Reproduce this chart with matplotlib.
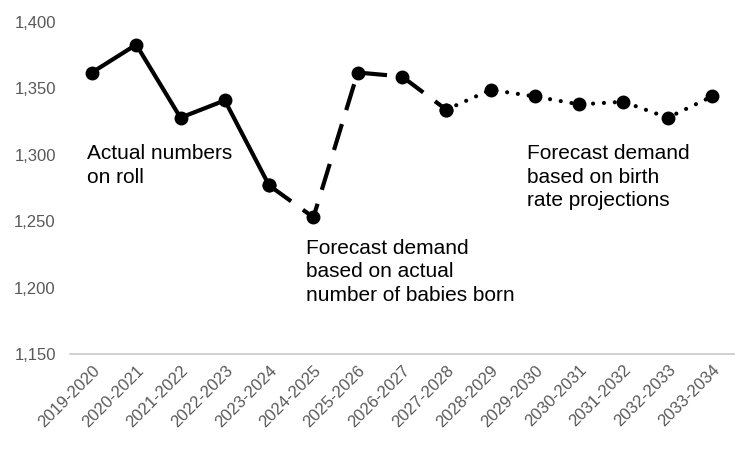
import matplotlib.pyplot as plt

plt.rcParams['font.family'] = ['Liberation Sans', 'DejaVu Sans']

years = ['2019-2020', '2020-2021', '2021-2022', '2022-2023', '2023-2024',
         '2024-2025', '2025-2026', '2026-2027', '2027-2028', '2028-2029',
         '2029-2030', '2030-2031', '2031-2032', '2032-2033', '2033-2034']
# pupils per year
actual = [1362, 1383, 1328, 1341, 1277]
forecast_born = [1277, 1253, 1362, 1359, 1334]
forecast_births = [1334, 1349, 1344, 1338, 1340, 1328, 1344]

fig, ax = plt.subplots(figsize=(7.5, 4.5), dpi=100)
fig.subplots_adjust(left=0.093, right=0.979, top=0.951, bottom=0.213)

x = list(range(len(years)))
ax.plot(x[0:5], actual, color='black', lw=3, marker='o', ms=9, solid_capstyle='round')
ax.plot(x[4:9], forecast_born, color='black', lw=3, marker='o', ms=9,
        linestyle=(0, (6.5, 3.5)))
ax.plot(x[8:15], forecast_births, color='black', lw=3, marker='o', ms=9,
        linestyle=(0, (0.01, 2.6)), dash_capstyle='round')

ax.set_ylim(1150, 1400)
ax.set_xlim(-0.5, len(years) - 0.5)
ax.set_yticks([1150, 1200, 1250, 1300, 1350, 1400])
ax.yaxis.set_major_formatter(plt.FuncFormatter(lambda v, p: f'{int(v):,}'))
ax.set_xticks(x)
ax.set_xticklabels(years, rotation=45, ha='right', rotation_mode='anchor')

for s in ['top', 'right', 'left']:
    ax.spines[s].set_visible(False)
ax.spines['bottom'].set_color('#c8c8c8')
ax.spines['bottom'].set_linewidth(1.2)
ax.tick_params(axis='both', length=0, colors='#595959', labelsize=12)
ax.tick_params(axis='y', pad=10)
ax.tick_params(axis='x', pad=6)

ax.text(-0.12, 1308, 'Actual numbers\non roll', fontsize=15, va='top', ha='left',
        linespacing=1.3)
ax.text(4.83, 1237, 'Forecast demand\nbased on actual\nnumber of babies born', fontsize=15,
        va='top', ha='left', linespacing=1.3)
ax.text(9.82, 1308, 'Forecast demand\nbased on birth\nrate projections', fontsize=15,
        va='top', ha='left', linespacing=1.3)

fig.savefig('out.png', dpi=100)
